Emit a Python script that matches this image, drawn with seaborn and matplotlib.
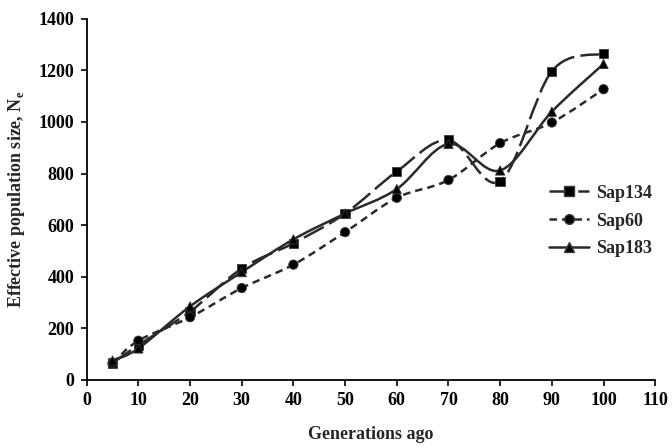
import seaborn as sns
import matplotlib
matplotlib.use("Agg")
from matplotlib import pyplot as plt
from matplotlib.path import Path
from matplotlib.patches import PathPatch
from matplotlib.lines import Line2D
import pandas as pd
import numpy as np

# Data
generations = [5, 10, 20, 30, 40, 50, 60, 70, 80, 90, 100]
sap134 = [65, 135, 265, 432, 530, 645, 808, 930, 770, 1197, 1265]
sap60 = [65, 152, 243, 356, 447, 573, 706, 775, 918, 998, 1127]
sap183 = [75, 122, 285, 418, 545, 645, 740, 915, 812, 1040, 1225]
series_names = ["Sap134", "Sap60", "Sap183"]

df = pd.DataFrame({
    "gen": generations * 3,
    "size": sap134 + sap60 + sap183,
    "series": [n for n in series_names for _ in generations],
})

sns.set_theme(style="ticks")
plt.rcParams["font.family"] = ["Liberation Serif", "DejaVu Serif"]
plt.rcParams["font.weight"] = "bold"

line_col = "#2a2a2a"
dash_styles = {"Sap134": (0, (9, 2.5)), "Sap60": (0, (3, 2)), "Sap183": "-"}
marker_map = {"Sap134": "s", "Sap60": "o", "Sap183": "^"}


# Excel-like smoothed line: cubic Bezier through the points (Catmull-Rom controls)
def smooth_path(xs, ys):
    pts = np.column_stack([xs, ys]).astype(float)
    verts = [pts[0]]
    codes = [Path.MOVETO]
    n = len(pts)
    for i in range(n - 1):
        p0 = pts[i - 1] if i > 0 else pts[i]
        p1 = pts[i]
        p2 = pts[i + 1]
        p3 = pts[i + 2] if i + 2 < n else pts[i + 1]
        c1 = p1 + (p2 - p0) / 6.0
        c2 = p2 - (p3 - p1) / 6.0
        verts += [c1, c2, p2]
        codes += [Path.CURVE4] * 3
    return Path(verts, codes)


fig, ax = plt.subplots(figsize=(6.72, 4.48), dpi=100)
fig.subplots_adjust(left=0.129, right=0.975, bottom=0.152, top=0.958)

for name in series_names:
    sub = df[df["series"] == name]
    patch = PathPatch(smooth_path(sub["gen"].to_numpy(), sub["size"].to_numpy()),
                      facecolor="none", edgecolor=line_col, lw=1.8,
                      linestyle=dash_styles[name], zorder=2)
    ax.add_patch(patch)

sns.scatterplot(data=df, x="gen", y="size", style="series", markers=marker_map,
                color="black", s=45, edgecolor="#3a3a3a", linewidth=0.6,
                legend=False, ax=ax, zorder=3)

ax.set_xlim(0, 110)
ax.set_ylim(0, 1400)
ax.set_xticks(range(0, 111, 10))
ax.set_yticks(range(0, 1401, 200))
ax.tick_params(axis="both", labelsize=13, direction="out", length=4, width=1.2,
               colors="black", pad=5)
for lab in ax.get_xticklabels() + ax.get_yticklabels():
    lab.set_fontweight("bold")
sns.despine(ax=ax)
for sp in ["left", "bottom"]:
    ax.spines[sp].set_linewidth(1.3)
    ax.spines[sp].set_color("black")

ax.set_xlabel("Generations ago", fontsize=13, fontweight="bold", labelpad=12)
ax.set_ylabel(r"Effective population size, N$_\mathregular{e}$", fontsize=13,
              fontweight="bold", labelpad=8)

handles = [Line2D([], [], color=line_col, lw=1.8, linestyle=dash_styles[n],
                  marker=marker_map[n], markerfacecolor="black", markeredgecolor="#3a3a3a",
                  markersize=7) for n in series_names]
leg = ax.legend(handles, series_names, loc="center left", bbox_to_anchor=(0.785, 0.44),
                frameon=False, handlelength=2.2, handletextpad=0.4, labelspacing=0.6,
                prop={"weight": "bold", "size": 13})

fig.savefig("out.png", dpi=100)
